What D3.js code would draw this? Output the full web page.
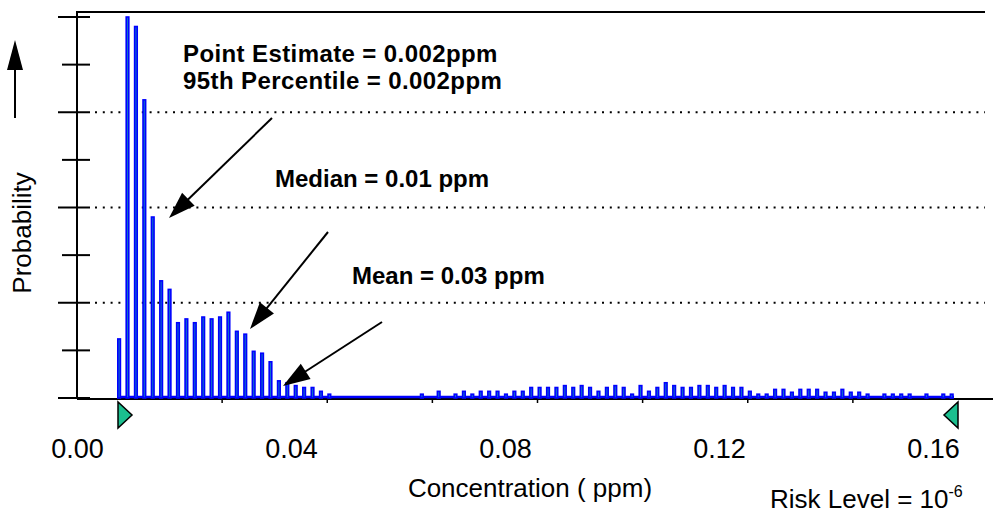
<!DOCTYPE html>
<html>
<head>
<meta charset="utf-8">
<script src="https://cdn.jsdelivr.net/npm/d3@7"></script>
<style>
  body { margin: 0; background: #fff; }
  svg { display: block; font-family: "Liberation Sans", Arial, sans-serif; }
</style>
</head>
<body>
<svg id="svg" width="993" height="519"></svg>
<script>
// histogram bins (100 bins across the forecast display range), probability per bin
const binCount = 100;
const probabilities = [
  0.0062, 0.0400, 0.0390, 0.0313, 0.0190, 0.0123, 0.0114, 0.0079, 0.0083, 0.0079,
  0.0085, 0.0083, 0.0085, 0.0090, 0.0070, 0.0067, 0.0049, 0.0047, 0.0038, 0.0018,
  0.0016, 0.0013, 0.0011, 0.0011, 0.0007, 0.0004, 0, 0, 0, 0,
  0, 0, 0, 0, 0, 0, 0.0004, 0, 0.0007, 0,
  0.0004, 0.0007, 0.0004, 0.0007, 0.0007, 0.0007, 0.0004, 0.0007, 0.0007, 0.0011,
  0.0011, 0.0011, 0.0011, 0.0013, 0.0011, 0.0013, 0.0011, 0.0007, 0.0011, 0.0013,
  0.0011, 0.0004, 0.0013, 0.0007, 0.0011, 0.0016, 0.0013, 0.0011, 0.0011, 0.0013,
  0.0013, 0.0011, 0.0013, 0.0011, 0.0011, 0.0007, 0.0004, 0.0004, 0.0009, 0.0009,
  0.0006, 0.0009, 0.0009, 0.0009, 0.0006, 0.0006, 0.0009, 0.0006, 0.0006, 0.0004,
  0, 0.0004, 0.0004, 0.0004, 0.0004, 0, 0.0004, 0, 0.0004, 0.0004
];
const xTickLabels = [0.00, 0.04, 0.08, 0.12, 0.16];
const yMajorTicks = [0, 0.01, 0.02, 0.03, 0.04];
const yMinorTicks = [0.005, 0.015, 0.025, 0.035];
const gridValues = [0.01, 0.02, 0.03];
const notes = [
  { lines: ["Point Estimate = 0.002ppm", "95th Percentile = 0.002ppm"] },
  { lines: ["Median = 0.01 ppm"] },
  { lines: ["Mean = 0.03 ppm"] }
];

const svg = d3.select("#svg");
const frame = { left: 77, top: 12, right: 985, bottom: 398 };

const y = d3.scaleLinear().domain([0, 0.04]).range([398, 17]);
const xBin = d3.scaleLinear().domain([0, binCount]).range([117, 958]);
const xLab = d3.scaleLinear().domain([0, 0.16]).range([77, 933]);

// dotted grid
svg.append("g")
  .selectAll("line")
  .data(gridValues)
  .enter().append("line")
    .attr("x1", 95).attr("x2", 985)
    .attr("y1", d => y(d)).attr("y2", d => y(d))
    .attr("stroke", "#000")
    .attr("stroke-width", 2)
    .attr("stroke-dasharray", "2,5.8");

// frame: left + top, bottom axis line
svg.append("path")
  .attr("d", `M${frame.right},${frame.top}H${frame.left}V${frame.bottom + 1}`)
  .attr("fill", "none").attr("stroke", "#000").attr("stroke-width", 2);
svg.append("line")
  .attr("x1", frame.left).attr("x2", 993)
  .attr("y1", 399).attr("y2", 399)
  .attr("stroke", "#000").attr("stroke-width", 2);

// y ticks
svg.append("g").selectAll("line")
  .data(yMajorTicks).enter().append("line")
    .attr("x1", 58).attr("x2", 90)
    .attr("y1", d => y(d)).attr("y2", d => y(d))
    .attr("stroke", "#000").attr("stroke-width", 2);
svg.append("g").selectAll("line")
  .data(yMinorTicks).enter().append("line")
    .attr("x1", 62).attr("x2", 90)
    .attr("y1", d => y(d)).attr("y2", d => y(d))
    .attr("stroke", "#000").attr("stroke-width", 2);

// small ticks along the bin range
svg.append("g").selectAll("line")
  .data(d3.range(1, 8).map(k => k * binCount / 8)).enter().append("line")
    .attr("x1", d => xBin(d)).attr("x2", d => xBin(d))
    .attr("y1", 399).attr("y2", 403)
    .attr("stroke", "#000").attr("stroke-width", 1.5);

// blue baseline under the bars
svg.append("line")
  .attr("x1", xBin(0)).attr("x2", xBin(binCount) - 4)
  .attr("y1", 397).attr("y2", 397)
  .attr("stroke", "#0000ff").attr("stroke-width", 2.6);

// bars
const barW = xBin(0.5) - xBin(0);
svg.append("g")
  .selectAll("rect")
  .data(probabilities)
  .enter().append("rect")
    .attr("x", (d, i) => xBin(i) + 0.8)
    .attr("y", d => y(d))
    .attr("width", barW - 1.6)
    .attr("height", d => y(0) - y(d))
    .attr("fill", "#0f6fc8")
    .attr("stroke", "#0000ff")
    .attr("stroke-width", 1.6);

// range markers
const tri = [[0, 0], [0, 26], [14, 13]];
svg.append("path")
  .attr("d", d3.line()(tri.map(p => [xBin(0) + 1 + p[0], 402 + p[1]])) + "Z")
  .attr("fill", "#1bbf8f").attr("stroke", "#000").attr("stroke-width", 1.5);
svg.append("path")
  .attr("d", d3.line()(tri.map(p => [xBin(binCount) - p[0], 402 + p[1]])) + "Z")
  .attr("fill", "#1bbf8f").attr("stroke", "#000").attr("stroke-width", 1.5);

// x tick labels
const xAxis = svg.append("g")
  .call(d3.axisBottom(xLab).tickValues(xTickLabels).tickFormat(d3.format(".2f")).tickSize(0));
xAxis.select(".domain").remove();
xAxis.selectAll("text")
  .attr("y", 458).attr("dy", 0)
  .attr("fill", "#000")
  .style("font-size", "27px")
  .style("font-family", "'Liberation Sans', Arial, sans-serif");

// axis titles
svg.append("text")
  .attr("x", 530).attr("y", 497)
  .attr("text-anchor", "middle")
  .style("font-size", "26px")
  .text("Concentration ( ppm)");

svg.append("text")
  .attr("transform", "translate(31,233) rotate(-90)")
  .attr("text-anchor", "middle")
  .style("font-size", "26px")
  .text("Probability");

svg.append("line")
  .attr("x1", 15).attr("x2", 15).attr("y1", 118).attr("y2", 66)
  .attr("stroke", "#000").attr("stroke-width", 2);
svg.append("path")
  .attr("d", "M15,40L7,70L23,70Z")
  .attr("fill", "#000");

const risk = svg.append("text")
  .attr("x", 770).attr("y", 508)
  .style("font-size", "26px")
  .text("Risk Level = 10");
risk.append("tspan")
  .attr("dy", -11)
  .style("font-size", "16px")
  .text("-6");

// annotations
const noteText = svg.append("g")
  .style("font-size", "24px")
  .style("font-weight", "bold");
noteText.append("text").attr("x", 183).attr("y", 62).attr("letter-spacing", 0.4).text(notes[0].lines[0]);
noteText.append("text").attr("x", 183).attr("y", 89).attr("letter-spacing", 0.4).text(notes[0].lines[1]);
noteText.append("text").attr("x", 275).attr("y", 187).text(notes[1].lines[0]);
noteText.append("text").attr("x", 352).attr("y", 284).text(notes[2].lines[0]);

// arrows
const arrows = [
  { from: [272, 118], to: [169, 218] },
  { from: [328, 232], to: [250, 329] },
  { from: [382, 322], to: [283, 386] }
];
arrows.forEach(a => {
  const dx = a.to[0] - a.from[0], dy = a.to[1] - a.from[1];
  const len = Math.hypot(dx, dy);
  const ux = dx / len, uy = dy / len;
  const headL = 27, headW = 9;
  const bx = a.to[0] - ux * headL, by = a.to[1] - uy * headL;
  svg.append("line")
    .attr("x1", a.from[0]).attr("y1", a.from[1])
    .attr("x2", bx + ux * 4).attr("y2", by + uy * 4)
    .attr("stroke", "#000").attr("stroke-width", 2);
  svg.append("path")
    .attr("d", `M${a.to[0]},${a.to[1]}L${bx - uy * headW},${by + ux * headW}L${bx + uy * headW},${by - ux * headW}Z`)
    .attr("fill", "#000");
});
</script>
</body>
</html>
